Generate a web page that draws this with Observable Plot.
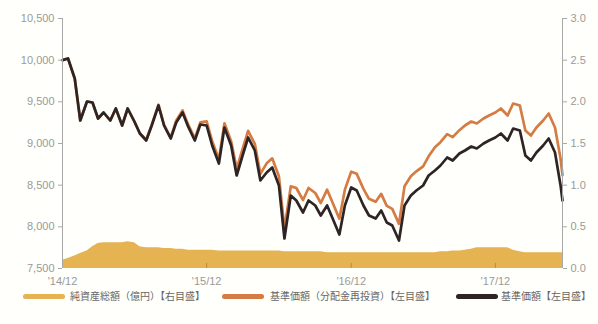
<!DOCTYPE html>
<html>
<head>
<meta charset="utf-8">
<script src="https://cdn.jsdelivr.net/npm/d3@7"></script>
<script src="https://cdn.jsdelivr.net/npm/@observablehq/plot@0.6"></script>
<style>
  html, body { margin: 0; padding: 0; background: #fffffc; }
  #chart { width: 598px; }
  #legend { position: relative; width: 598px; height: 38px; font-family: "Noto Sans CJK JP", sans-serif; font-size: 10px; color: #666; }
  #legend .sw { position: absolute; height: 5px; border-radius: 3px; top: 8px; }
  #legend .lb { position: absolute; top: 2px; white-space: nowrap; }
</style>
</head>
<body>
<div id="chart"></div>
<div id="legend"></div>
<script>
// Semi-monthly observation dates
const dates = [
  "2014-12-01","2014-12-15",
  "2015-01-01","2015-01-15","2015-02-01","2015-02-15","2015-03-01","2015-03-15","2015-04-01","2015-04-15",
  "2015-05-01","2015-05-15","2015-06-01","2015-06-15","2015-07-01","2015-07-15","2015-08-01","2015-08-15",
  "2015-09-01","2015-09-15","2015-10-01","2015-10-15","2015-11-01","2015-11-15","2015-12-01","2015-12-15",
  "2016-01-01","2016-01-15","2016-02-01","2016-02-15","2016-03-01","2016-03-15","2016-04-01","2016-04-15",
  "2016-05-01","2016-05-15","2016-06-01","2016-06-15","2016-07-01","2016-07-15","2016-08-01","2016-08-15",
  "2016-09-01","2016-09-15","2016-10-01","2016-10-15","2016-11-01","2016-11-15","2016-12-01","2016-12-15",
  "2017-01-01","2017-01-15","2017-02-01","2017-02-15","2017-03-01","2017-03-15","2017-04-01","2017-04-15",
  "2017-05-01","2017-05-15","2017-06-01","2017-06-15","2017-07-01","2017-07-15","2017-08-01","2017-08-15",
  "2017-09-01","2017-09-15","2017-10-01","2017-10-15","2017-11-01","2017-11-15","2017-12-01","2017-12-15",
  "2018-01-01","2018-01-15","2018-02-01","2018-02-15","2018-03-01","2018-03-15","2018-04-01","2018-04-15",
  "2018-05-01","2018-05-15","2018-05-20"
];

// 基準価額 (円, left axis)
const navPrice = [
  10000,10020,9780,9276,9504,9492,9300,9372,9276,9420,
  9216,9420,9264,9120,9036,9216,9456,9216,9060,9252,
  9372,9204,9036,9228,9216,8976,8760,9192,8976,8616,
  8856,9072,8916,8556,8652,8712,8496,7860,8376,8316,
  8172,8316,8256,8136,8256,8100,7908,8256,8472,8436,
  8256,8136,8100,8196,8052,8016,7836,8256,8376,8436,
  8496,8616,8676,8736,8832,8796,8880,8916,8964,8940,
  9000,9036,9072,9120,9036,9180,9156,8856,8796,8892,
  8976,9060,8892,8500,8316
];

// 基準価額（分配金再投資） (円, left axis)
const navReinvested = [
  10000,10020,9780,9276,9504,9492,9300,9372,9276,9420,
  9216,9420,9264,9120,9046,9226,9466,9226,9070,9277,
  9397,9229,9061,9253,9266,9026,8810,9242,9026,8696,
  8936,9152,8996,8636,8762,8822,8606,7975,8486,8466,
  8322,8466,8406,8286,8446,8290,8098,8446,8662,8636,
  8456,8336,8300,8396,8252,8216,8036,8486,8606,8666,
  8726,8846,8956,9016,9112,9076,9160,9216,9264,9240,
  9300,9336,9372,9420,9336,9480,9456,9156,9096,9192,
  9276,9360,9192,8820,8620
];

// 純資産総額 (億円, right axis)
const netAssets = [
  0.10,0.12,0.15,0.18,0.21,0.26,0.30,0.31,0.31,0.31,
  0.31,0.32,0.31,0.26,0.25,0.25,0.25,0.24,0.24,0.23,
  0.23,0.22,0.22,0.22,0.22,0.22,0.21,0.21,0.21,0.21,
  0.21,0.21,0.21,0.21,0.21,0.21,0.21,0.20,0.20,0.20,
  0.20,0.20,0.20,0.20,0.19,0.19,0.19,0.19,0.19,0.19,
  0.19,0.19,0.19,0.19,0.19,0.19,0.19,0.19,0.19,0.19,
  0.19,0.19,0.19,0.20,0.20,0.21,0.21,0.22,0.23,0.25,
  0.25,0.25,0.25,0.25,0.25,0.22,0.20,0.19,0.19,0.19,
  0.19,0.19,0.19,0.19,0.19
];

const leftTicks = [7500, 8000, 8500, 9000, 9500, 10000, 10500];
const rightTicks = [0.0, 0.5, 1.0, 1.5, 2.0, 2.5, 3.0];
const xTickDates = ["2014-12-01", "2015-12-01", "2016-12-01", "2017-12-01"];
const legendLabels = ["純資産総額（億円）【右目盛】", "基準価額（分配金再投資）【左目盛】", "基準価額【左目盛】"];

const colors = { assets: "#e6b352", reinvested: "#d47c44", price: "#2e2424", axis: "#a8a8a8", text: "#9a9a9a" };

// Right axis (0–3.0 億円) shares the left scale: 0.0 ↔ 7,500, 3.0 ↔ 10,500
const yMin = leftTicks[0], yMax = leftTicks[leftTicks.length - 1];
const rMin = rightTicks[0], rMax = rightTicks[rightTicks.length - 1];
const toLeft = v => yMin + (v - rMin) * (yMax - yMin) / (rMax - rMin);

const parse = d3.utcParse("%Y-%m-%d");
const rows = dates.map((d, i) => ({
  date: parse(d), price: navPrice[i], reinvested: navReinvested[i], assets: toLeft(netAssets[i])
}));
const xDomain = [parse(dates[0]), parse(dates[dates.length - 1])];
const tickDates = xTickDates.map(parse);

const chart = Plot.plot({
  width: 598,
  height: 286,
  marginLeft: 62,
  marginRight: 36,
  marginTop: 18,
  marginBottom: 18,
  style: { fontFamily: "'Liberation Sans', Arial, sans-serif", fontSize: "11px", color: colors.text, background: "transparent" },
  x: { type: "utc", domain: xDomain },
  y: { domain: [yMin, yMax] },
  marks: [
    Plot.areaY(rows, { x: "date", y1: yMin, y2: "assets", fill: colors.assets }),
    Plot.ruleX(tickDates, { y1: yMin, y2: yMin + 60, stroke: "#b98a3a", strokeWidth: 1 }),
    Plot.lineY(rows, { x: "date", y: "reinvested", stroke: colors.reinvested, strokeWidth: 2.7, strokeLinejoin: "round" }),
    Plot.lineY(rows, { x: "date", y: "price", stroke: colors.price, strokeWidth: 2.7, strokeLinejoin: "round" }),
    Plot.ruleX([xDomain[0]], { stroke: colors.axis }),
    Plot.ruleX([xDomain[1]], { stroke: colors.axis }),
    Plot.axisY(leftTicks, { anchor: "left", tickFormat: d3.format(","), tickSize: 4, tickPadding: 4, stroke: colors.axis, fill: colors.text, label: null }),
    Plot.axisY(leftTicks, { anchor: "right", tickFormat: d => ((d - yMin) * (rMax - rMin) / (yMax - yMin) + rMin).toFixed(1), tickSize: 4, tickPadding: 4, stroke: colors.axis, fill: colors.text, label: null }),
    Plot.axisX(tickDates, { anchor: "bottom", tickFormat: d => "'" + d3.utcFormat("%y/%m")(d), tickSize: 0, tickPadding: 9, fill: colors.text, label: null })
  ]
});
document.getElementById("chart").appendChild(chart);

// Legend below the plot
const legendItems = [
  { label: legendLabels[0], color: colors.assets, sw: 23, lb: 70 },
  { label: legendLabels[1], color: colors.reinvested, sw: 222, lb: 270 },
  { label: legendLabels[2], color: colors.price, sw: 456, lb: 501 }
];
const legend = document.getElementById("legend");
for (const it of legendItems) {
  const s = document.createElement("div");
  s.className = "sw";
  s.style.left = it.sw + "px";
  s.style.width = "42px";
  s.style.background = it.color;
  legend.appendChild(s);
  const t = document.createElement("div");
  t.className = "lb";
  t.style.left = it.lb + "px";
  t.textContent = it.label;
  legend.appendChild(t);
}
</script>
</body>
</html>
